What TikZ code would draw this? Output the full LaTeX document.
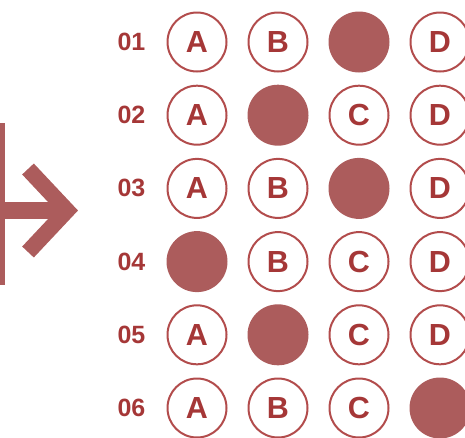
\documentclass[tikz,border=0pt]{standalone}
\usepackage{fontspec}
\setmainfont{Liberation Sans}
\definecolor{fillred}{RGB}{172,92,92}
\definecolor{textred}{RGB}{165,55,55}
\definecolor{linered}{RGB}{178,76,76}
\begin{document}
\begin{tikzpicture}[x=1pt,y=-1pt,
  bubble/.style={circle, draw=linered, line width=2pt, minimum size=59pt, inner sep=0pt, text=textred, font=\fontsize{30.5}{30}\selectfont\bfseries},
  filledbubble/.style={circle, fill=fillred, minimum size=61pt, inner sep=0pt},
  num/.style={text=textred, inner sep=0pt, font=\fontsize{25}{25}\selectfont\bfseries},
  arrowpart/.style={draw=fillred, line cap=butt, miter limit=10}]
\useasboundingbox (0,0) rectangle (465,437);
% arrow on the left
\fill[fillred] (-10,123) rectangle (5,285);
\draw[arrowpart, line width=17pt] (0,210.5) -- (62,210.5);
\draw[arrowpart, line width=16pt] (28,169) -- (67,210.5) -- (28,252);
% answer sheet
\foreach \r/\ans in {1/C,2/B,3/C,4/A,5/B,6/D}{
  \pgfmathsetmacro\yy{42+73.2*(\r-1)}
  \node[num] (n\r) at (131.5,\yy) {0\r};
  \foreach \lt [count=\c from 0] in {A,B,C,D}{
    \pgfmathsetmacro\xx{197+81*\c}
    \ifx\lt\ans
      \node[filledbubble] (q\r\lt) at (\xx,\yy) {};
    \else
      \node[bubble] (q\r\lt) at (\xx,\yy) {\lt};
    \fi
  }
}
\end{tikzpicture}
\end{document}
